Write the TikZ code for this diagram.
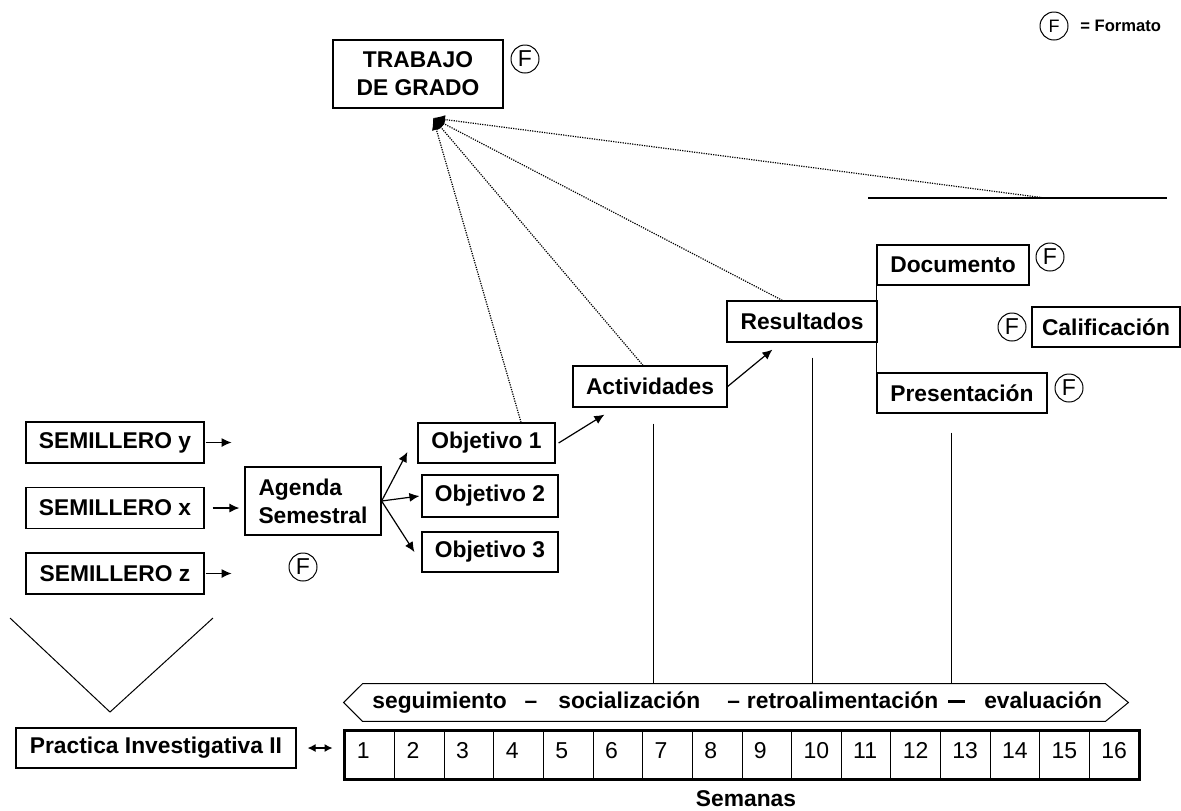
\documentclass[tikz,border=0pt]{standalone}
\usepackage{fontspec}
\setmainfont{Liberation Sans}
\usetikzlibrary{arrows.meta, calc}

\tikzset{
	box/.style={draw, line width=0.6pt, inner sep=0pt, font=\fontsize{11.4}{14}\selectfont\bfseries},
	fmt/.style={draw, circle, line width=0.5pt, inner sep=0pt, minimum size=14pt, font=\fontsize{11.5}{12}\selectfont},
	week/.style={draw, line width=0.5pt, inner sep=0pt, minimum width=24.81pt, minimum height=24pt},
	arr/.style={-{Latex[length=5pt,width=4.5pt]}, line width=0.6pt},
	dots/.style={line width=0.6pt, dash pattern=on 0.6pt off 0.6pt, -{Latex[length=6pt,width=4.5pt]}},
	plain/.style={inner sep=0pt, font=\fontsize{11.4}{14}\selectfont\bfseries}
}

\begin{document}
\begin{tikzpicture}[x=0.5pt, y=-0.5pt]
	\useasboundingbox (0,0) rectangle (1181,810);

	\draw
		(418,74) node[box, align=center, minimum width=85pt, minimum height=34pt] (trabajo) {TRABAJO\\DE GRADO}
		(115,442.5) node[box, minimum width=89pt, minimum height=20.5pt] (semy) {SEMILLERO y}
		(115,508) node[box, minimum width=89pt, minimum height=20.5pt] (semx) {SEMILLERO x}
		(115,573.5) node[box, minimum width=89pt, minimum height=20.5pt] (semz) {SEMILLERO z}
		(313,501) node[box, align=left, minimum width=68pt, minimum height=34pt] (agenda) {Agenda\\Semestral}
		(486.5,443) node[box, minimum width=68.5pt, minimum height=20pt] (obj1) {Objetivo 1}
		(490,496) node[box, minimum width=68pt, minimum height=21pt] (obj2) {Objetivo 2}
		(490,552) node[box, minimum width=68pt, minimum height=20pt] (obj3) {Objetivo 3}
		(650,386.5) node[box, minimum width=77pt, minimum height=20.5pt] (activ) {Actividades}
		(802,321.5) node[box, minimum width=75pt, minimum height=20.5pt] (result) {Resultados}
		(953,265) node[box, minimum width=76pt, minimum height=20pt] (docu) {Documento}
		(962,393) node[box, minimum width=85pt, minimum height=20pt] (present) {Presentación}
		(1106,327) node[box, minimum width=74pt, minimum height=20pt] (calif) {Calificación}
		(156,748) node[box, minimum width=140pt, minimum height=20pt] (practica) {Practica Investigativa II};

	\draw
		(1054,26) node[fmt, font=\fontsize{9}{10}\selectfont] (f0) {F}
		(525,59) node[fmt] (f1) {F}
		(303,567) node[fmt] (f2) {F}
		(1050,257) node[fmt] (f3) {F}
		(1012,327) node[fmt] (f4) {F}
		(1069,388) node[fmt] (f5) {F};

	\node[anchor=west, inner sep=0pt, font=\fontsize{8.3}{10}\selectfont\bfseries] (leyenda) at (1080,26) {= Formato};

	\foreach \i in {1,...,16} {
		\node[week] (wk\i) at ({345+(\i-0.5)*49.625},755) {};
		\node[anchor=base west, inner sep=0pt, font=\fontsize{11.5}{12}\selectfont] (n\i) at ([xshift=6pt,yshift=-1.5pt]wk\i.west) {\i};
	}
	\draw[line width=1.5pt] (wk1.north west) rectangle (wk16.south east);

	\node[plain] (semanas) at (746,799) {Semanas};

	\node[inner sep=0pt, minimum width=371pt, minimum height=18.5pt] (band) at (734,702.5) {};
	\draw[line width=0.5pt]
		(band.north west) -- (band.north east) -- ([xshift=11.5pt]band.east) -- (band.south east)
		-- (band.south west) -- ([xshift=-9.5pt]band.west) -- cycle;
	\node[plain, anchor=west] (bandtxt) at (372,703)
		{seguimiento\hspace{9pt}–\hspace{10.5pt}socialización\hspace{13.5pt}–\hspace{3.5pt}retroalimentación\hspace{5pt}\rule[0.27em]{8.5pt}{1.5pt}\hspace{9.5pt}evaluación};

	\draw[arr] ([xshift=0.5pt]semy.east) -- ++(26,0);
	\draw[arr] ([xshift=0.5pt]semz.east) -- ++(26,0);
	\draw[arr, shorten <=4pt, shorten >=2.5pt] (semx.east) -- (semx.east -| agenda.west);

	\draw[arr] (agenda.east) -- ([xshift=-5pt,yshift=-4.5pt]obj1.west);
	\draw[arr] (agenda.east) -- ([xshift=-1pt]obj2.west);
	\draw[arr] (agenda.east) -- ([xshift=-3.5pt]obj3.west);
	\draw[arr] ([xshift=1.5pt]obj1.east) -- ([xshift=16pt,yshift=-3.5pt]activ.south west);
	\draw[arr] (activ.east) -- ([xshift=23pt,yshift=-3.5pt]result.south west);

	\draw[line width=0.6pt] (docu.south west) -- (present.north west);

	\coordinate (meta) at (433,118);
	\coordinate (ra) at (868,198);
	\coordinate (rb) at (1167,198);
	\coordinate (rc) at (1045,198);
	\draw[line width=0.6pt] (ra) -- (rb);
	\draw[dots] ($(obj1.north)!0.5!(obj1.north east)$) -- (meta);
	\draw[dots] ([xshift=-3.5pt]activ.north) -- (meta);
	\draw[dots] ($(result.north west)!0.37!(result.north east)$) -- (meta);
	\draw[dots] (rc) -- (meta);

	\draw[line width=0.5pt] ([xshift=1.5pt,yshift=-8pt]activ.south) -- ([xshift=1.5pt]activ.south |- band.north);
	\draw[line width=0.5pt] ([xshift=5pt,yshift=-7.5pt]result.south) -- ([xshift=5pt]result.south |- band.north);
	\draw[line width=0.5pt] ([xshift=-5.5pt,yshift=-9.5pt]present.south) -- ([xshift=-5.5pt]present.south |- band.north);

	\draw[{Latex[length=4pt,width=4pt]}-{Latex[length=4pt,width=4pt]}, line width=0.6pt, shorten <=5.5pt, shorten >=6pt]
		(practica.east) -- (practica.east -| wk1.west);

	\draw[line width=0.5pt] (10,618) -- (110,712) -- (213,618);
\end{tikzpicture}
\end{document}
